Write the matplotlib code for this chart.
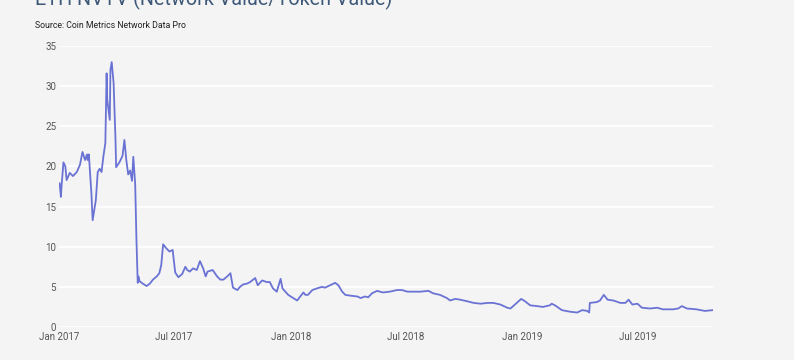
import matplotlib
matplotlib.use("Agg")
import matplotlib.pyplot as plt
import matplotlib.dates as mdates
import numpy as np
import pandas as pd

plt.rcParams['font.family'] = ['Roboto', 'DejaVu Sans']

# ETH NVTV
dates = [
    "2017-01-02", "2017-01-04", "2017-01-05", "2017-01-08", "2017-01-11", "2017-01-13",
    "2017-01-18", "2017-01-23", "2017-01-29", "2017-02-03", "2017-02-07", "2017-02-11",
    "2017-02-14", "2017-02-15", "2017-02-17", "2017-02-21", "2017-02-23", "2017-02-28",
    "2017-03-03", "2017-03-06", "2017-03-09", "2017-03-12", "2017-03-15", "2017-03-17",
    "2017-03-18", "2017-03-22", "2017-03-23", "2017-03-25", "2017-03-28", "2017-03-31",
    "2017-04-01", "2017-04-06", "2017-04-11", "2017-04-14", "2017-04-17", "2017-04-20",
    "2017-04-23", "2017-04-26", "2017-04-28", "2017-05-01", "2017-05-03", "2017-05-05",
    "2017-05-06", "2017-05-08", "2017-05-13", "2017-05-19", "2017-05-24", "2017-05-29",
    "2017-06-04", "2017-06-08", "2017-06-11", "2017-06-14", "2017-06-19", "2017-06-24",
    "2017-06-29", "2017-07-03", "2017-07-08", "2017-07-14", "2017-07-19", "2017-07-22",
    "2017-07-26", "2017-07-31", "2017-08-06", "2017-08-11", "2017-08-16", "2017-08-20",
    "2017-08-23", "2017-08-31", "2017-09-07", "2017-09-12", "2017-09-17", "2017-09-23",
    "2017-09-28", "2017-10-02", "2017-10-09", "2017-10-13", "2017-10-18", "2017-10-24",
    "2017-10-29", "2017-11-06", "2017-11-10", "2017-11-17", "2017-11-24", "2017-11-29",
    "2017-12-04", "2017-12-10", "2017-12-16", "2017-12-19", "2017-12-28",
    "2018-01-05", "2018-01-11", "2018-01-16", "2018-01-21", "2018-01-24", "2018-01-28",
    "2018-02-04", "2018-02-11", "2018-02-19", "2018-02-24", "2018-03-04", "2018-03-12",
    "2018-03-17", "2018-03-23", "2018-03-28", "2018-04-05", "2018-04-16", "2018-04-21",
    "2018-04-28", "2018-05-03", "2018-05-09", "2018-05-17", "2018-05-26", "2018-06-06",
    "2018-06-17", "2018-06-25", "2018-07-04", "2018-07-13", "2018-07-24", "2018-08-06",
    "2018-08-13", "2018-08-24", "2018-09-04", "2018-09-09", "2018-09-17", "2018-09-25",
    "2018-10-06", "2018-10-16", "2018-10-27", "2018-11-07", "2018-11-16", "2018-11-27",
    "2018-12-08", "2018-12-13", "2018-12-20", "2018-12-30",
    "2019-01-05", "2019-01-13", "2019-01-24", "2019-02-02", "2019-02-13", "2019-02-16",
    "2019-02-21", "2019-03-04", "2019-03-17", "2019-03-28", "2019-04-05", "2019-04-13",
    "2019-04-16", "2019-04-17", "2019-04-28", "2019-05-03", "2019-05-09", "2019-05-15",
    "2019-05-24", "2019-06-04", "2019-06-12", "2019-06-17", "2019-06-23", "2019-07-01",
    "2019-07-08", "2019-07-21", "2019-08-01", "2019-08-10", "2019-08-26", "2019-09-03",
    "2019-09-09", "2019-09-17", "2019-10-02", "2019-10-15", "2019-10-28",
]
nvtv = [
    17.9, 16.2, 17.5, 20.5, 20.0, 18.3,
    19.2, 18.8, 19.3, 20.2, 21.8, 20.8,
    21.5, 20.8, 21.5, 16.7, 13.3, 15.8,
    19.3, 19.7, 19.3, 21.3, 22.9, 31.6,
    28.3, 25.8, 32.0, 33.0, 30.4, 23.3,
    19.9, 20.5, 21.3, 23.3, 20.8, 19.0,
    19.5, 18.2, 21.2, 17.8, 10.8, 5.5,
    6.3, 5.7, 5.4, 5.1, 5.4, 5.9,
    6.3, 6.7, 7.7, 10.3, 9.8, 9.4,
    9.6, 6.8, 6.2, 6.6, 7.5, 7.1,
    6.9, 7.3, 7.1, 8.2, 7.3, 6.3,
    6.9, 7.1, 6.3, 5.9, 5.9, 6.3,
    6.7, 4.9, 4.6, 5.0, 5.3, 5.4,
    5.6, 6.1, 5.2, 5.8, 5.6, 5.6,
    4.8, 4.4, 6.0, 4.8, 4.0,
    3.6, 3.3, 3.8, 4.3, 4.0, 4.0,
    4.6, 4.8, 5.0, 4.9, 5.2, 5.5,
    5.2, 4.4, 4.0, 3.9, 3.8, 3.6,
    3.8, 3.7, 4.2, 4.5, 4.3, 4.4,
    4.6, 4.6, 4.4, 4.4, 4.4, 4.5,
    4.2, 4.0, 3.6, 3.3, 3.5, 3.4,
    3.2, 3.0, 2.9, 3.0, 3.0, 2.8,
    2.4, 2.3, 2.8, 3.5,
    3.2, 2.7, 2.6, 2.5, 2.7, 2.9,
    2.7, 2.1, 1.9, 1.8, 2.1, 2.0,
    1.8, 3.0, 3.1, 3.3, 4.0, 3.4,
    3.3, 3.0, 3.0, 3.4, 2.8, 2.9,
    2.4, 2.3, 2.4, 2.2, 2.2, 2.3,
    2.6, 2.3, 2.2, 2.0, 2.1,
]
yticks = [0, 5, 10, 15, 20, 25, 30, 35]
title = "ETH NVTV (Network Value/Token Value)"
source = "Source: Coin Metrics Network Data Pro"

bg = "#f4f4f4"
x = pd.to_datetime(dates)

fig = plt.figure(figsize=(7.94, 3.6), dpi=100, facecolor=bg)
ax = fig.add_axes([0.0743, 0.0917, 0.8237, 0.7805], facecolor=bg)

ax.plot(x, nvtv, color="#6a73d4", lw=1.3)

ax.set_xlim(pd.Timestamp("2017-01-01"), x[-1])
ax.set_ylim(0, 35)
ax.set_yticks(yticks)
ax.xaxis.set_major_locator(mdates.MonthLocator(bymonth=[1, 7]))
ax.xaxis.set_major_formatter(mdates.DateFormatter("%b %Y"))

ax.grid(axis="y", color="white", lw=1.2)
ax.set_axisbelow(True)
for s in ax.spines.values():
    s.set_visible(False)
ax.tick_params(length=0, labelsize=7, labelcolor="#555555")
ax.tick_params(axis="y", pad=2)
ax.tick_params(axis="x", pad=3.5)

fig.text(35 / 794, 1 - 5 / 360, title, fontsize=14.2, color="#3d5878",
         ha="left", va="baseline")
fig.text(35 / 794, 1 - 25 / 360, source, fontsize=6.3, color="#222222",
         ha="left", va="center")

fig.savefig("out.png", dpi=100, facecolor=bg)
